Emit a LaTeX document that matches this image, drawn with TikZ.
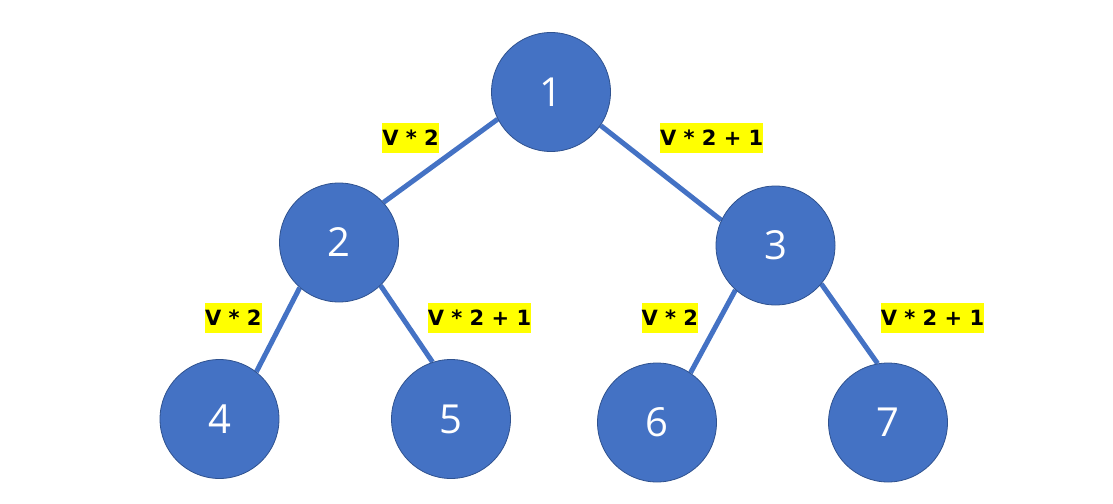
\documentclass[tikz,border=0pt]{standalone}
\usepackage{fontspec}
\usetikzlibrary{backgrounds}
\setmainfont{Open Sans}
\newfontfamily\labfont{DejaVu Sans}
\definecolor{nodeblue}{HTML}{4472C4}
\definecolor{nodeedge}{HTML}{2F528F}
\definecolor{hl}{HTML}{FFFF00}
\begin{document}
\begin{tikzpicture}[x=1pt,y=-1pt,
  tnode/.style={circle,fill=nodeblue,draw=nodeedge,line width=0.8pt,minimum size=119pt,inner sep=0pt,text=white,font=\fontsize{40}{40}\selectfont},
  tedge/.style={draw=nodeblue,line width=5pt},
  lab/.style={fill=hl,text=black,inner xsep=0pt,inner ysep=0pt,minimum height=30pt,font=\labfont\bfseries\fontsize{21}{21}\selectfont},
  labs/.style={lab,minimum width=55pt},
  labl/.style={lab,minimum width=100pt}]
\useasboundingbox (0,0) rectangle (1113,503);
\node[tnode] (n1) at (551,92) {1};
\node[tnode] (n2) at (339,242.5) {2};
\node[tnode] (n3) at (775.5,245.5) {3};
\node[tnode] (n4) at (219.5,419) {4};
\node[tnode] (n5) at (451,419) {5};
\node[tnode] (n6) at (657,422.5) {6};
\node[tnode] (n7) at (888,422.5) {7};
\begin{scope}[on background layer]
\path[tedge] (n1.207) -- (n2.42);
\path[tedge] (n1.-34) -- (n3.155);
\path[tedge] (n2.229) -- (n4.52);
\path[tedge] (n2.-46) -- (n5.108);
\path[tedge] (n3.228) -- (n6.56);
\path[tedge] (n3.-40) -- (n7.100);
\end{scope}
\node[labs] (l12) at (410.5,138) {V * 2};
\node[labl] (l13) at (711.7,138) {V * 2 + 1};
\node[labs] (l24) at (233.3,317.7) {V * 2};
\node[labl] (l25) at (479.5,317.7) {V * 2 + 1};
\node[labs] (l36) at (669.8,317.7) {V * 2};
\node[labl] (l37) at (932.5,317.7) {V * 2 + 1};
\end{tikzpicture}
\end{document}
